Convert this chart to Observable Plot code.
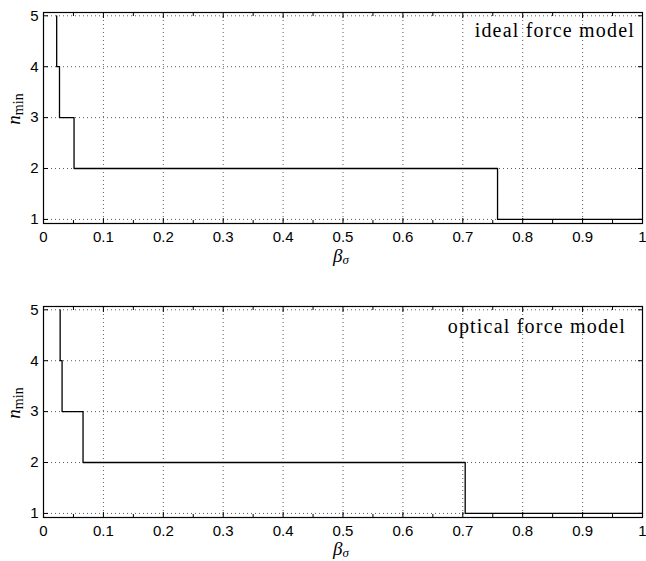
<!DOCTYPE html>
<html><head><meta charset="utf-8">
<script src="https://cdn.jsdelivr.net/npm/d3@7"></script>
<script src="https://cdn.jsdelivr.net/npm/@observablehq/plot@0.6"></script>
<style>body{margin:0;background:#fff;} svg{display:block;}</style>
</head><body><div id="chart"></div>
<script>
// data
const nLevels = [5, 4, 3, 2, 1];
const idealBeta = [0.022, 0.0267, 0.051, 0.758, 1];
const opticalBeta = [0.0278, 0.031, 0.066, 0.704, 1];
const xTicks = [0, 0.1, 0.2, 0.3, 0.4, 0.5, 0.6, 0.7, 0.8, 0.9, 1];
const xMinorTicks = [0.05, 0.15, 0.25, 0.35, 0.45, 0.55, 0.65, 0.75, 0.85, 0.95];
const yTicks = [1, 2, 3, 4, 5];
const panelTitles = ["ideal force model", "optical force model"];

const W = 646, ML = 43, MR = 4;
const serif = "'Liberation Serif', 'Times New Roman', serif";
const sans = "'Liberation Sans', Arial, Helvetica, sans-serif";

function panel(betas, title, cfg) {
  const rows = betas.map((b, i) => ({beta: b, n: nLevels[i]}));
  const grid = {stroke: "#333", strokeOpacity: 1, strokeWidth: 0.8, strokeDasharray: "1,3"};
  const svg = Plot.plot({
    width: W, height: cfg.height,
    marginLeft: ML, marginRight: MR, marginTop: cfg.mt, marginBottom: cfg.mb,
    style: {fontFamily: sans, fontSize: "15px", color: "black", background: "white"},
    x: {domain: [0, 1]},
    y: {domain: [0.92, 5.065]},
    marks: [
      Plot.gridX(xTicks.slice(1, -1), grid),
      Plot.gridY(yTicks, grid),
      Plot.axisX({anchor: "bottom", ticks: xTicks, tickSize: 0, tickPadding: 8, tickFormat: d => String(d), label: null, fontSize: 15}),
      Plot.axisY({anchor: "left", ticks: yTicks, tickSize: 0, tickPadding: 5, tickFormat: d => String(d), label: null, fontSize: 15}),
      Plot.axisX({anchor: "bottom", ticks: xTicks, tickSize: -5, tickFormat: () => "", label: null}),
      Plot.axisX({anchor: "top", ticks: xTicks, tickSize: -5, tickFormat: () => "", label: null}),
      Plot.axisX({anchor: "bottom", ticks: xMinorTicks, tickSize: -3, tickFormat: () => "", label: null}),
      Plot.axisX({anchor: "top", ticks: xMinorTicks, tickSize: -3, tickFormat: () => "", label: null}),
      Plot.axisY({anchor: "right", ticks: yTicks, tickSize: -5, tickFormat: () => "", label: null}),
      Plot.axisY({anchor: "left", ticks: yTicks, tickSize: -5, tickFormat: () => "", label: null}),
      Plot.line(rows, {x: "beta", y: "n", curve: "step-before", stroke: "black", strokeWidth: 1.3}),
      Plot.frame({stroke: "black", strokeWidth: 1.2})
    ]
  });
  const s = d3.select(svg);
  const boxBottom = cfg.height - cfg.mb;
  // x label beta_sigma
  const xl = s.append("text").attr("x", 341).attr("y", boxBottom + cfg.xlOff)
    .attr("text-anchor", "middle").style("font-family", serif).style("font-style", "italic").attr("fill", "black");
  xl.append("tspan").attr("font-size", 19).text("β");
  xl.append("tspan").attr("font-size", 13).attr("dy", 2).text("σ");
  // y label n_min
  const yl = s.append("text").attr("transform", `translate(20,${cfg.ylY}) rotate(-90)`)
    .attr("text-anchor", "middle").style("font-family", serif).attr("fill", "black");
  yl.append("tspan").attr("font-size", 19).style("font-style", "italic").text("n");
  yl.append("tspan").attr("font-size", 14).attr("dy", 3).text("min");
  // title
  s.append("text").attr("x", cfg.titleX).attr("y", cfg.titleY).attr("text-anchor", "end")
    .style("font-family", serif).attr("font-size", 20).style("letter-spacing", "1.2px")
    .attr("fill", "black").text(title);
  return svg;
}

const root = document.getElementById("chart");
root.appendChild(panel(idealBeta, panelTitles[0], {height: 295, mt: 12, mb: 72, xlOff: 39, ylY: 109, titleX: 635, titleY: 37}));
root.appendChild(panel(opticalBeta, panelTitles[1], {height: 266, mt: 11, mb: 44, xlOff: 38, ylY: 108, titleX: 626, titleY: 38}));
</script></body></html>
